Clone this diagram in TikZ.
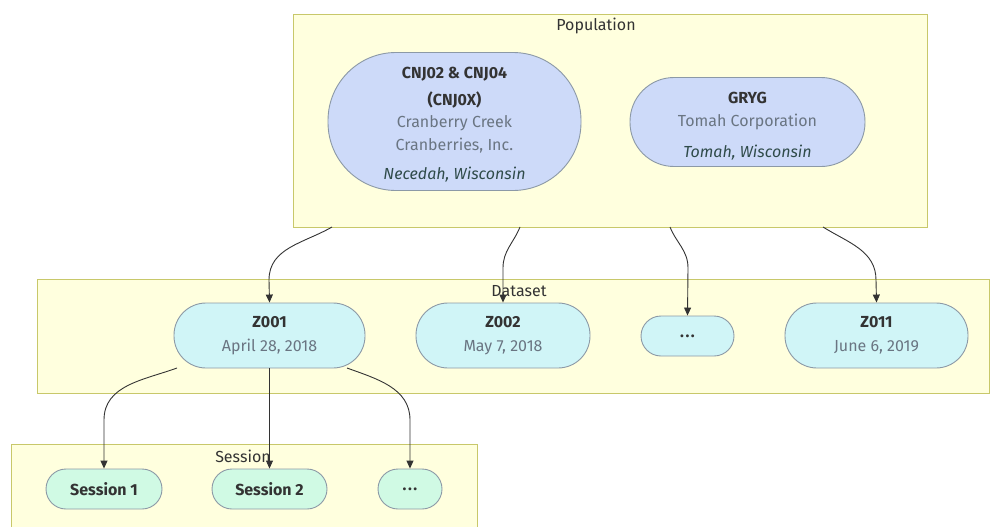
\documentclass[tikz,border=0pt]{standalone}
\usepackage{fontspec}
\setmainfont{Fira Sans}
\usetikzlibrary{arrows.meta}
\definecolor{clfill}{HTML}{FFFFDE}
\definecolor{cldraw}{HTML}{C8C86A}
\definecolor{popfill}{HTML}{CDDAF9}
\definecolor{dsfill}{HTML}{D0F5F7}
\definecolor{sefill}{HTML}{D0FAE4}
\definecolor{nodedraw}{HTML}{8C99A6}
\definecolor{ttl}{HTML}{333333}
\definecolor{sub}{HTML}{6A7582}
\definecolor{loc}{HTML}{2F4B4A}
\definecolor{edge}{HTML}{333333}
\tikzset{
  cluster/.style={draw=cldraw, fill=clfill, line width=1pt},
  cltitle/.style={text=ttl, font=\fontsize{16}{19}\selectfont, inner sep=0pt},
  pill/.style={draw=nodedraw, line width=0.9pt, inner sep=0pt, align=center,
     font=\fontsize{16}{23}\selectfont},
  popnode/.style={pill, fill=popfill},
  dsnode/.style={pill, fill=dsfill},
  senode/.style={pill, fill=sefill},
  ntext/.style={inner sep=0pt, align=center, font=\fontsize{16}{23}\selectfont},
  conn/.style={draw=edge, line width=0.9pt, -{Triangle[length=8pt,width=7pt]}},
}
\newcommand{\ttlt}[1]{\textcolor{ttl}{\textbf{#1}}}
\newcommand{\subt}[1]{\textcolor{sub}{#1}}
\newcommand{\loct}[1]{\textcolor{loc}{\textit{#1}}}
\newcommand{\mydots}{.\kern1.5pt.\kern1.5pt.}
\begin{document}
\begin{tikzpicture}[x=1pt,y=-1pt]
\useasboundingbox (0,0) rectangle (990,527);
\fill[white] (0,0) rectangle (990,527);
% clusters
\draw[cluster] (293,15) rectangle (927,227);
\draw[cluster] (37,279) rectangle (989,393);
\draw[cluster] (11,444) rectangle (477,545);
\node[cltitle] (poplbl) at (596,26) {Population};
\node[cltitle] (dslbl) at (519,291) {Dataset};
\node[cltitle] (selbl) at (243,456) {Session};
% population nodes
\node[popnode, minimum width=253pt, minimum height=138pt, rounded corners=68pt] (cnj) at (454.5,121.5) {};
\node[ntext] (cnjt) at ([yshift=-3pt]cnj.center)
  {\ttlt{CNJ02 \& CNJ04}\\[4pt]\ttlt{(CNJ0X)}\\[-1pt]\subt{Cranberry Creek}\\\subt{Cranberries, Inc.}\\[6pt]\loct{Necedah, Wisconsin}};
\node[popnode, minimum width=235pt, minimum height=89pt, rounded corners=44pt] (gryg) at (747.5,122) {};
\node[ntext] (grygt) at ([yshift=-4pt]gryg.center)
  {\ttlt{GRYG}\\\subt{Tomah Corporation}\\[8pt]\loct{Tomah, Wisconsin}};
% dataset nodes
\node[dsnode, minimum width=191pt, minimum height=65pt, rounded corners=32pt] (z1) at (269.5,335.5)
  {\ttlt{Z001}\\[1pt]\subt{April 28, 2018}};
\node[dsnode, minimum width=174pt, minimum height=65pt, rounded corners=32pt] (z2) at (503,335.5)
  {\ttlt{Z002}\\[1pt]\subt{May 7, 2018}};
\node[dsnode, minimum width=93pt, minimum height=40pt, rounded corners=20pt] (zd) at (687.5,336)
  {\ttlt{\mydots}};
\node[dsnode, minimum width=183pt, minimum height=65pt, rounded corners=32pt] (z11) at (876.5,335.5)
  {\ttlt{Z011}\\[1pt]\subt{June 6, 2019}};
% session nodes
\node[senode, minimum width=116pt, minimum height=40pt, rounded corners=20pt] (s1) at (104,489)
  {\ttlt{Session 1}};
\node[senode, minimum width=115pt, minimum height=40pt, rounded corners=20pt] (s2) at (269.5,489)
  {\ttlt{Session 2}};
\node[senode, minimum width=64pt, minimum height=40pt, rounded corners=20pt] (sd) at (410,489)
  {\ttlt{\mydots}};
% edge start points
\coordinate (p1) at (332,227);
\coordinate (p2) at (520,227);
\coordinate (p3) at (670,227);
\coordinate (p4) at (823,227);
\coordinate (q1) at (177,368);
\coordinate (q3) at (347,368);
% connectors
\draw[conn] (p1) to[out=-150,in=90] (269,280) -- (z1.north);
\draw[conn] (p2) to[out=-112,in=90] (503,268) -- (z2.north);
\draw[conn] (p3) to[out=-68,in=90] (688,268) -- (zd.north);
\draw[conn] (p4) to[out=-32,in=90] (876,280) -- (z11.north);
\draw[conn] (q1) to[out=-160,in=90] (104,420) -- (s1.north);
\draw[conn] (z1.south) -- (s2.north);
\draw[conn] (q3) to[out=-20,in=90] (410,420) -- (sd.north);
\end{tikzpicture}
\end{document}
